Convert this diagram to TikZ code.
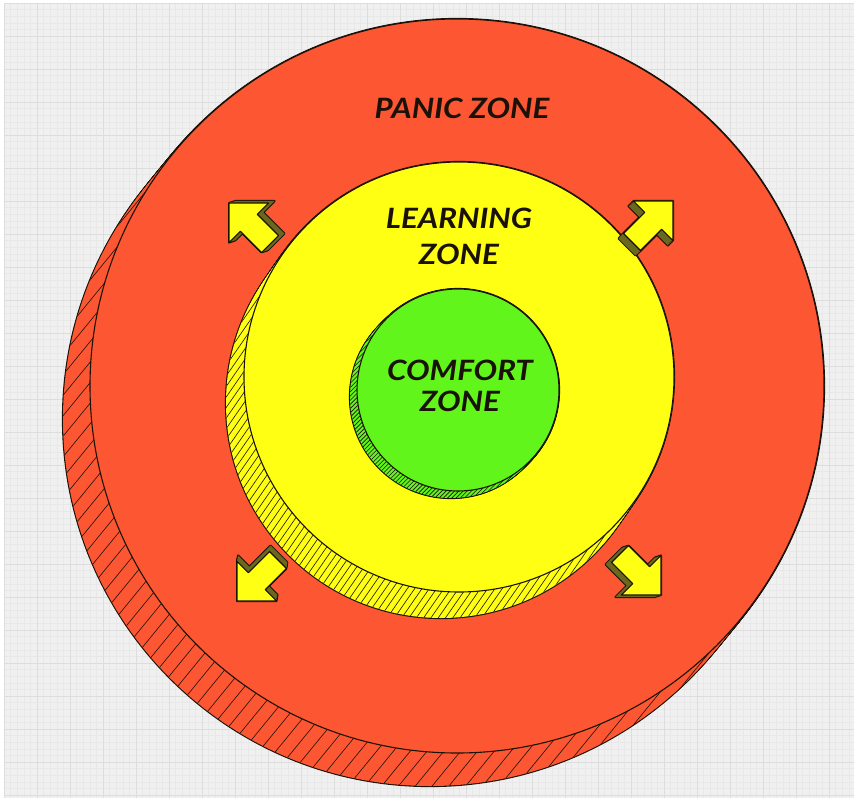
\documentclass[tikz,border=0pt]{standalone}
\usepackage{fontspec}
\setmainfont{Lato}[FakeStretch=1.12]
\usetikzlibrary{patterns}
\definecolor{bgc}{HTML}{F0F0F0}
\definecolor{gridminor}{HTML}{E8E8E8}
\definecolor{gridmajor}{HTML}{DDDDDD}
\definecolor{panic}{HTML}{FD5632}
\definecolor{learn}{HTML}{FFFF14}
\definecolor{comfort}{HTML}{62F51C}
\definecolor{ink}{HTML}{1A1208}
\definecolor{olive}{HTML}{6A6820}
\tikzset{
  zonelabel/.style={font=\fontsize{28}{36}\selectfont\bfseries\itshape, text=ink, align=center, inner sep=0pt},
  rim/.style={draw=ink, line width=1.1pt},
}
\newcommand\zdisc[7]{%
  \foreach \i in {0,...,20}{\draw[ink, line width=2.2pt] ({#1+\i/20*(#4)},{#2+\i/20*(#5)}) circle[radius=#3];}
  \foreach \i in {0,...,20}{\fill[#6] ({#1+\i/20*(#4)},{#2+\i/20*(#5)}) circle[radius=#3];}
  \begin{scope}
    \clip ({#1+(#4)},{#2+(#5)}) circle[radius=#3];
    \pgfmathsetmacro\ux{(#4)/veclen(#4,#5)}
    \pgfmathsetmacro\uy{(#5)/veclen(#4,#5)}
    \pgfmathtruncatemacro\nn{#3/#7+2}
    \foreach \k in {-\nn,...,\nn}{
      \draw[ink, line width=0.6pt]
        ({#1+(#4)-(\k)*#7*(\uy)-(#3+40)*(\ux)},{#2+(#5)+(\k)*#7*(\ux)-(#3+40)*(\uy)}) --
        ({#1+(#4)-(\k)*#7*(\uy)+(#3+40)*(\ux)},{#2+(#5)+(\k)*#7*(\ux)+(#3+40)*(\uy)});
    }
  \end{scope}
  \filldraw[fill=#6, rim] (#1,#2) circle[radius=#3];
}
\newcommand\zashape[1]{\path[#1] (0,0) -- (-28,-28) -- (-28,-12) -- (-58,-12) -- (-58,12) -- (-28,12) -- (-28,28) -- cycle;}
\newcommand\zarrow[5]{%
  \foreach \i in {0,...,6}{\zashape{draw=ink, line width=2pt, line join=round, shift={({#1+\i/6*(#4)},{#2+\i/6*(#5)})}, rotate=#3}}
  \foreach \i in {0,...,6}{\zashape{fill=olive, shift={({#1+\i/6*(#4)},{#2+\i/6*(#5)})}, rotate=#3}}
  \zashape{fill=learn, rim, line join=round, shift={(#1,#2)}, rotate=#3}
}
\begin{document}
\begin{tikzpicture}[x=1pt,y=-1pt]
\useasboundingbox (0,0) rectangle (858,802);
\fill[white] (0,0) rectangle (858,802);
\fill[bgc] (4,3) rectangle (854,798);
\foreach \g in {0,...,128}{\draw[gridminor, line width=0.3pt] ({4+\g*6.6},3) -- ({4+\g*6.6},798);}
\foreach \g in {0,...,120}{\draw[gridminor, line width=0.3pt] (4,{3+\g*6.6}) -- (854,{3+\g*6.6});}
\foreach \g in {0,...,25}{\draw[gridmajor, line width=0.4pt] ({4+\g*33},3) -- ({4+\g*33},798);}
\foreach \g in {0,...,24}{\draw[gridmajor, line width=0.4pt] (4,{3+\g*33}) -- (854,{3+\g*33});}
% discs
\zdisc{457}{386}{367}{-27}{33}{panic}{13}
\zdisc{459}{377}{215}{-18}{26}{learn}{6}
\zdisc{458}{390}{101}{-7}{7}{comfort}{3}
% arrows
\zarrow{229}{203}{135}{6}{-2}
\zarrow{673}{201}{45}{-5}{5}
\zarrow{237}{601}{225}{1}{-6}
\zarrow{661}{595}{-45}{-6}{2}
% labels
\node[zonelabel] (panic) at (462,108) {PANIC ZONE};
\node[zonelabel] (learning) at (459,236) {LEARNING\\ZONE};
\node[zonelabel, font=\fontsize{28}{31}\selectfont\bfseries\itshape] (comfort) at (460,386) {COMFORT\\ZONE};
\end{tikzpicture}
\end{document}
